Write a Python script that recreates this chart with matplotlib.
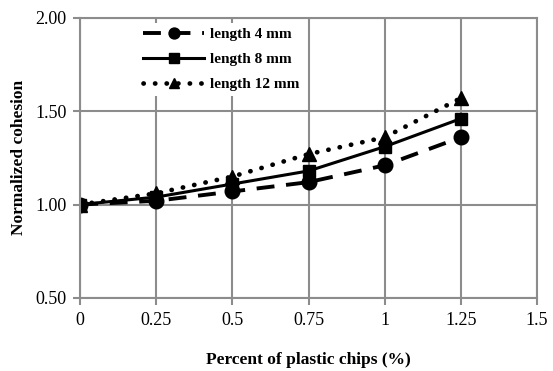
import matplotlib

matplotlib.use("Agg")
import matplotlib.pyplot as plt

# percent of plastic chips and normalized cohesion for each chip length
percent = [0, 0.25, 0.5, 0.75, 1.0, 1.25]
len_4mm = [1.00, 1.02, 1.07, 1.12, 1.21, 1.36]
len_8mm = [1.00, 1.04, 1.11, 1.18, 1.31, 1.46]
len_12mm = [1.00, 1.06, 1.15, 1.27, 1.36, 1.57]
labels = ["length 4 mm", "length 8 mm", "length 12 mm"]

plt.rcParams["font.family"] = ["Liberation Serif", "DejaVu Serif"]

fig = plt.figure(figsize=(5.53, 3.71), dpi=100)
ax = fig.add_axes([0.145, 0.197, 0.826, 0.755])

grid_c = "#8c8c8c"
ax.plot(percent, len_4mm, color="black", lw=2.8, dashes=(4.6, 3.0),
        marker="o", ms=10.5, label=labels[0])
ax.plot(percent, len_8mm, color="black", lw=2.2, marker="s", ms=9,
        label=labels[1])
ax.plot(percent, len_12mm, color="black", lw=3.4, dashes=(0.05, 2.4),
        dash_capstyle="round", marker="^", ms=10.5, label=labels[2])

ax.set_xlim(0, 1.5)
ax.set_ylim(0.5, 2.0)
ax.set_xticks([0, 0.25, 0.5, 0.75, 1.0, 1.25, 1.5])
ax.set_xticklabels(["0", "0.25", "0.5", "0.75", "1", "1.25", "1.5"])
ax.set_yticks([0.5, 1.0, 1.5, 2.0])
ax.set_yticklabels(["0.50", "1.00", "1.50", "2.00"])
ax.grid(True, color=grid_c, lw=1.5)
ax.set_axisbelow(True)
for sp in ax.spines.values():
    sp.set_color(grid_c)
    sp.set_linewidth(1.5)
ax.tick_params(axis="both", colors=grid_c, labelcolor="black",
               labelsize=13, length=5, width=1.5, pad=5)

ax.set_xlabel("Percent of plastic chips (%)", fontsize=12.5,
              fontweight="bold", labelpad=17)
ax.set_ylabel("Normalized cohesion", fontsize=12.5, fontweight="bold",
              labelpad=6)

# white legend box covers the gridlines behind it, no visible frame
leg = ax.legend(loc="upper left", bbox_to_anchor=(0.128, 0.983),
                frameon=True, fancybox=False, facecolor="white",
                edgecolor="none", framealpha=1.0, borderpad=0.3,
                borderaxespad=0.0, handlelength=4.0, markerscale=0.75,
                prop={"weight": "bold", "size": 11},
                labelspacing=0.76, handletextpad=0.4)

fig.savefig("out.png", dpi=100)
